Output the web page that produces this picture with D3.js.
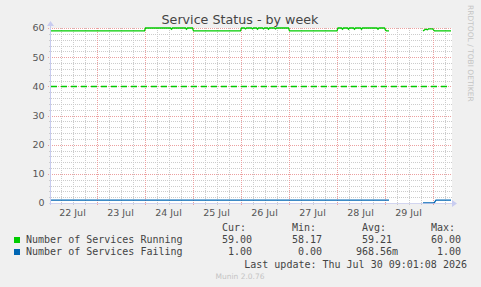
<!DOCTYPE html>
<head>
    <meta charset="utf-8">
    <style>
        body{
            margin:0;
            background:#f0f0f0;
        }
        svg{
            display:block;
        }
        .title{
            font-family:'DejaVu Sans', sans-serif;
            font-size:12.7px;
            fill:#444;
        }
        .tick-label{
            font-family:'DejaVu Sans', sans-serif;
            font-size:9.5px;
            fill:#555;
        }
        .legend{
            font-family:'DejaVu Sans Mono', monospace;
            font-size:10px;
            fill:#444;
        }
        .grid-minor{
            stroke:#cccccc;
            stroke-dasharray:1,1;
            shape-rendering:crispEdges;
        }
        .grid-major{
            stroke:#eca0a0;
            stroke-dasharray:1,1;
            shape-rendering:crispEdges;
        }
        .line{
            fill:none;
            stroke-width:1.3px;
        }
        .axis-line{
            stroke:#c8ccf0;
            shape-rendering:crispEdges;
        }
        .watermark{
            font-family:'DejaVu Sans', sans-serif;
            font-size:7.5px;
            fill:#c4c4c4;
        }
    </style>
</head>
<body>
    <div id="chart"></div>
    <script src="https://d3js.org/d3.v7.min.js"></script>
    <script>
        // hours counted from 22 Jul 00:00
        var dayLabels = ["22 Jul", "23 Jul", "24 Jul", "25 Jul", "26 Jul", "27 Jul", "28 Jul", "29 Jul"];
        var yTicks = [0, 10, 20, 30, 40, 50, 60];

        var runningHours = [1.25, 48, 48.5, 61, 61.5, 62, 68.5, 69, 69.5, 72, 72.5, 96, 96.5, 98, 98.5, 99, 101.5, 102, 102.5,
            104, 104.5, 105, 107, 107.5, 108, 109.5, 110, 110.5, 113, 113.5, 114, 120, 120.5, 144.25, 144.75, 146.5, 147, 147.5,
            149.5, 150, 150.5, 152.5, 153, 153.5, 156, 156.5, 157, 164.25, 164.75, 165.25, 168, 168.5, 169, 170.25, 170.75,
            187.25, 188.5, 189.5, 190, 192, 193, 201.25];
        var runningValues = [59, 59, 60, 60, 59.6, 60, 60, 59.6, 60, 60, 59, 59, 60, 60, 59.7, 60, 60, 59.7, 60,
            60, 59.6, 60, 60, 59.7, 60, 60, 59.6, 60, 60, 59.7, 60, 60, 59, 59, 60, 60, 59.6, 60,
            60, 59.6, 60, 60, 59.6, 60, 60, 59.6, 60, 60, 59.6, 60, 60, 59.3, 59, 59, null,
            59, 59.6, 59.4, 59.7, 59.7, 59, 59];

        var failingHours = [1.25, 170.25, 170.75, 187.25, 192.75, 193.75, 201.25];
        var failingValues = [1, 1, null, 0, 0, 1, 1];

        var warningLevel = 40;

        var seriesNames = ["Number of Services Running", "Number of Services Failing"];
        var seriesColors = ["#00cc00", "#0066b3"];
        var curValues = [59.00, 1.00];
        var minValues = [58.17, 0.00];
        var avgValues = [59.21, 0.96856];
        var maxValues = [60.00, 1.00];

        var start = new Date(2026, 6, 22, 0, 0);
        function toDate(h){
            return new Date(start.getTime() + h * 3600 * 1000);
        }

        var width = 481, height = 287;
        var plot = {left: 51, right: 451, top: 28, bottom: 203};

        var svg = d3.select("#chart").append("svg")
            .attr("width", width)
            .attr("height", height);

        var x = d3.scaleTime()
            .domain([toDate(1.25), toDate(201.25)])
            .range([plot.left, plot.right]);

        var y = d3.scaleLinear()
            .domain([0, 60])
            .range([plot.bottom, plot.top]);

        // white canvas
        svg.append("rect")
            .attr("x", plot.left)
            .attr("y", plot.top)
            .attr("width", plot.right - plot.left + 1)
            .attr("height", plot.bottom - plot.top)
            .attr("fill", "#fff");

        // minor grid
        var minorY = d3.range(0, 61, 2).filter(function(v){ return v % 10 != 0; });
        svg.append("g").selectAll("line")
            .data(minorY)
            .enter().append("line")
            .attr("class", "grid-minor")
            .attr("x1", plot.left - 2)
            .attr("x2", plot.right + 1)
            .attr("y1", function(d){ return Math.round(y(d)) + 0.5; })
            .attr("y2", function(d){ return Math.round(y(d)) + 0.5; });

        var minorX = d3.timeHour.every(6).range(x.domain()[0], x.domain()[1])
            .filter(function(d){ return d.getHours() != 0; });
        svg.append("g").selectAll("line")
            .data(minorX)
            .enter().append("line")
            .attr("class", "grid-minor")
            .attr("x1", function(d){ return Math.round(x(d)) + 0.5; })
            .attr("x2", function(d){ return Math.round(x(d)) + 0.5; })
            .attr("y1", plot.top)
            .attr("y2", plot.bottom + 2);

        // major grid
        svg.append("g").selectAll("line")
            .data(yTicks.slice(1))
            .enter().append("line")
            .attr("class", "grid-major")
            .attr("x1", plot.left - 3)
            .attr("x2", plot.right + 1)
            .attr("y1", function(d){ return Math.round(y(d)) + 0.5; })
            .attr("y2", function(d){ return Math.round(y(d)) + 0.5; });

        var majorX = d3.timeDay.range(x.domain()[0], x.domain()[1]);
        svg.append("g").selectAll("line")
            .data(majorX)
            .enter().append("line")
            .attr("class", "grid-major")
            .attr("x1", function(d){ return Math.round(x(d)) + 0.5; })
            .attr("x2", function(d){ return Math.round(x(d)) + 0.5; })
            .attr("y1", plot.top)
            .attr("y2", plot.bottom + 3);

        // warning rule
        svg.append("line")
            .attr("x1", plot.left)
            .attr("x2", plot.right)
            .attr("y1", Math.round(y(warningLevel)) + 0.5)
            .attr("y2", Math.round(y(warningLevel)) + 0.5)
            .attr("stroke", "#00cc00")
            .attr("stroke-width", 1.3)
            .attr("stroke-dasharray", "6,4");

        // data lines
        var line = d3.line()
            .defined(function(d){ return d[1] !== null; })
            .x(function(d){ return x(toDate(d[0])); })
            .y(function(d){ return y(d[1]); });

        var running = runningHours.map(function(h, i){ return [h, runningValues[i]]; });
        var failing = failingHours.map(function(h, i){ return [h, failingValues[i]]; });

        svg.append("path")
            .datum(running)
            .attr("class", "line")
            .attr("stroke", seriesColors[0])
            .attr("d", line);

        svg.append("path")
            .datum(failing)
            .attr("class", "line")
            .attr("stroke", seriesColors[1])
            .attr("d", line);

        // axes lines with arrows
        svg.append("line")
            .attr("class", "axis-line")
            .attr("opacity", 0.75)
            .attr("x1", plot.left - 2).attr("x2", plot.right + 2)
            .attr("y1", plot.bottom + 0.5).attr("y2", plot.bottom + 0.5);
        svg.append("line")
            .attr("class", "axis-line")
            .attr("x1", plot.left - 0.5).attr("x2", plot.left - 0.5)
            .attr("y1", plot.bottom + 2).attr("y2", plot.top - 4);
        svg.append("path")
            .attr("d", "M" + (plot.right + 1) + "," + (plot.bottom - 3) + "L" + (plot.right + 6) + "," + (plot.bottom + 0.5) + "L" + (plot.right + 1) + "," + (plot.bottom + 4) + "Z")
            .attr("fill", "#c8ccf0");
        svg.append("path")
            .attr("d", "M" + (plot.left - 4) + "," + (plot.top - 2) + "L" + (plot.left - 0.5) + "," + (plot.top - 7) + "L" + (plot.left + 3) + "," + (plot.top - 2) + "Z")
            .attr("fill", "#c8ccf0");

        // tick labels
        svg.append("g").selectAll("text")
            .data(yTicks)
            .enter().append("text")
            .attr("class", "tick-label")
            .attr("x", 44.5)
            .attr("y", function(d){ return y(d); })
            .attr("dy", "0.36em")
            .attr("text-anchor", "end")
            .text(function(d){ return d; });

        svg.append("g").selectAll("text")
            .data(dayLabels)
            .enter().append("text")
            .attr("class", "tick-label")
            .attr("x", function(d, i){ return x(toDate(12 + 24 * i)); })
            .attr("y", 215.5)
            .attr("text-anchor", "middle")
            .text(function(d){ return d; });

        // title
        svg.append("text")
            .attr("class", "title")
            .attr("x", 240)
            .attr("y", 24)
            .attr("text-anchor", "middle")
            .text("Service Status - by week");

        svg.append("text")
            .attr("class", "watermark")
            .attr("transform", "translate(467.5,5) rotate(90)")
            .text("RRDTOOL / TOBI OETIKER");

        // legend
        var fmt = d3.format(".2f");
        function munin(v){
            if (v != 0 && Math.abs(v) < 1) return [fmt(v * 1000), "m"];
            return [fmt(v), ""];
        }
        var colEnds = [252, 322, 392, 461];
        var headers = ["Cur:", "Min:", "Avg:", "Max:"];

        svg.append("g").selectAll("text")
            .data(headers)
            .enter().append("text")
            .attr("class", "legend")
            .attr("x", function(d, i){ return colEnds[i] - 30; })
            .attr("y", 231)
            .text(function(d){ return d; });

        seriesNames.forEach(function(name, i){
            var yy = 243 + i * 12;
            svg.append("rect")
                .attr("x", 14).attr("y", yy - 6)
                .attr("width", 6).attr("height", 6)
                .attr("fill", seriesColors[i]);
            svg.append("text")
                .attr("class", "legend")
                .attr("x", 26).attr("y", yy)
                .text(name);
            [curValues[i], minValues[i], avgValues[i], maxValues[i]].forEach(function(v, j){
                var f = munin(v);
                svg.append("text")
                    .attr("class", "legend")
                    .attr("x", colEnds[j]).attr("y", yy)
                    .attr("text-anchor", "end")
                    .text(f[0]);
                if (f[1]) {
                    svg.append("text")
                        .attr("class", "legend")
                        .attr("x", colEnds[j]).attr("y", yy)
                        .text(f[1]);
                }
            });
        });

        svg.append("text")
            .attr("class", "legend")
            .attr("x", 467)
            .attr("y", 267.5)
            .attr("text-anchor", "end")
            .text("Last update: Thu Jul 30 09:01:08 2026");

        svg.append("text")
            .attr("class", "watermark")
            .attr("x", 240)
            .attr("y", 279)
            .attr("text-anchor", "middle")
            .text("Munin 2.0.76");
    </script>
</body>
